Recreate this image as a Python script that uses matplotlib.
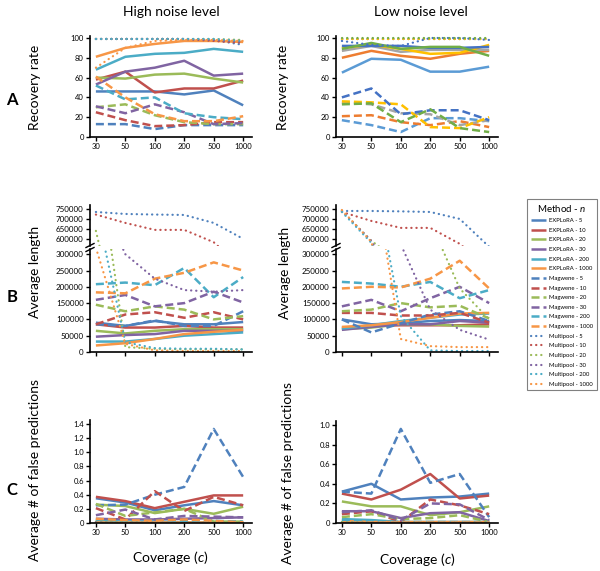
import numpy as np
import matplotlib.pyplot as plt
from matplotlib.lines import Line2D
from matplotlib.ticker import FuncFormatter

plt.rcParams['font.family'] = ['Lato', 'DejaVu Sans']
plt.rcParams['mathtext.fontset'] = 'custom'
plt.rcParams['mathtext.rm'] = 'Lato'
plt.rcParams['mathtext.it'] = 'Lato:italic'

coverage = ['30', '50', '100', '200', '500', '1000']
n_values = ['5', '10', '20', '30', '200', '1000']
methods = ['EXPLoRA', 'Magwene', 'Multipool']

# Office 2007 palette (legend, most panels) and the 2013 one used in panel A right
colors_main = ['#4F81BD', '#C0504D', '#9BBB59', '#8064A2', '#4BACC6', '#F79646']
colors_alt = ['#5B9BD5', '#ED7D31', '#A5A5A5', '#FFC000', '#4472C4', '#70AD47']

# --- A: recovery rate, high noise (rows are n = 5, 10, 20, 30, 200, 1000)
a_high_explora = [[46, 46, 46, 43, 47, 32],
                  [58, 66, 45, 49, 49, 57],
                  [60, 59, 63, 64, 59, 55],
                  [53, 66, 70, 77, 62, 64],
                  [68, 81, 84, 85, 89, 86],
                  [81, 90, 94, 97, 97, 96]]
a_high_magwene = [[13, 13, 8, 12, 12, 12],
                  [25, 17, 11, 12, 15, 15],
                  [30, 33, 22, 15, 13, 13],
                  [31, 24, 33, 25, 13, 14],
                  [52, 38, 40, 24, 20, 18],
                  [61, 40, 23, 16, 16, 21]]
a_high_multipool = [[99, 99, 99, 99, 98, 93],
                    [99, 99, 99, 99, 97, 95],
                    [99, 99, 99, 99, 99, 98],
                    [99, 99, 99, 99, 98, 96],
                    [99, 99, 99, 99, 99, 97],
                    [70, 90, 97, 98, 98, 97]]

# --- A: recovery rate, low noise
a_low_explora = [[65, 79, 78, 66, 66, 71],
                 [80, 87, 82, 79, 84, 87],
                 [87, 92, 86, 88, 88, 88],
                 [90, 93, 89, 84, 85, 93],
                 [92, 92, 92, 90, 90, 91],
                 [89, 95, 89, 91, 91, 82]]
a_low_magwene = [[17, 12, 5, 19, 19, 16],
                 [21, 22, 15, 12, 16, 10],
                 [35, 33, 24, 23, 12, 17],
                 [36, 35, 33, 10, 9, 20],
                 [40, 49, 23, 27, 27, 17],
                 [33, 34, 15, 28, 9, 5]]
a_low_multipool = [[99, 99, 99, 99, 99, 99],
                   [99, 99, 99, 99, 99, 99],
                   [99, 99, 99, 99, 99, 99],
                   [99, 99, 99, 99, 99, 99],
                   [97, 93, 92, 100, 100, 98],
                   [100, 100, 100, 100, 100, 100]]

# --- B: average length, high noise
b_high_explora = [[90000, 80000, 95000, 85000, 85000, 92000],
                  [85000, 75000, 75000, 80000, 75000, 75000],
                  [65000, 57000, 65000, 70000, 70000, 70000],
                  [47000, 52000, 55000, 65000, 65000, 65000],
                  [32000, 32000, 40000, 50000, 55000, 60000],
                  [20000, 27000, 40000, 55000, 62000, 68000]]
b_high_magwene = [[85000, 80000, 97000, 80000, 80000, 125000],
                  [85000, 115000, 122000, 105000, 122000, 100000],
                  [145000, 125000, 140000, 130000, 100000, 110000],
                  [160000, 175000, 140000, 150000, 185000, 152000],
                  [208000, 213000, 205000, 258000, 168000, 230000],
                  [183000, 180000, 225000, 243000, 275000, 250000]]
b_high_multipool = [[735000, 725000, 722000, 720000, 680000, 600000],
                    [722000, 680000, 645000, 645000, 583000, 450000],
                    [640000, 15000, 10000, 8000, 8000, 8000],
                    [500000, 300000, 225000, 190000, 185000, 190000],
                    [446000, 30000, 12000, 10000, 10000, 8000],
                    [320000, 25000, 5000, 3000, 3000, 3000]]

# --- B: average length, low noise
b_low_explora = [[100000, 85000, 88000, 95000, 98000, 95000],
                 [75000, 80000, 82000, 82000, 82000, 85000],
                 [70000, 75000, 85000, 85000, 80000, 78000],
                 [68000, 77000, 85000, 85000, 95000, 90000],
                 [72000, 82000, 95000, 105000, 115000, 118000],
                 [77000, 82000, 92000, 105000, 118000, 120000]]
b_low_magwene = [[100000, 60000, 88000, 115000, 125000, 95000],
                 [120000, 120000, 112000, 112000, 120000, 90000],
                 [125000, 130000, 150000, 137000, 142000, 103000],
                 [140000, 160000, 125000, 165000, 200000, 150000],
                 [215000, 210000, 200000, 215000, 165000, 190000],
                 [195000, 200000, 198000, 225000, 280000, 195000]]
b_low_multipool = [[740000, 740000, 738000, 735000, 700000, 560000],
                   [735000, 690000, 655000, 655000, 575000, 450000],
                   [740000, 590000, 480000, 400000, 195000, 100000],
                   [740000, 590000, 330000, 130000, 68000, 38000],
                   [735000, 580000, 110000, 5000, 3000, 3000],
                   [745000, 585000, 40000, 18000, 15000, 15000]]

# --- C: false predictions, high noise
c_high_explora = [[0.35, 0.29, 0.18, 0.25, 0.31, 0.25],
                  [0.37, 0.31, 0.21, 0.30, 0.39, 0.39],
                  [0.26, 0.24, 0.14, 0.20, 0.13, 0.23],
                  [0.06, 0.05, 0.05, 0.06, 0.07, 0.08],
                  [0.03, 0.02, 0.02, 0.01, 0.01, 0.01],
                  [0.01, 0.01, 0.01, 0.01, 0.01, 0.01]]
c_high_magwene = [[0.25, 0.26, 0.40, 0.51, 1.33, 0.65],
                  [0.21, 0.05, 0.45, 0.17, 0.37, 0.25],
                  [0.27, 0.10, 0.15, 0.20, 0.02, 0.02],
                  [0.11, 0.19, 0.05, 0.10, 0.09, 0.08],
                  [0.05, 0.03, 0.03, 0.03, 0.03, 0.02],
                  [0.06, 0.04, 0.03, 0.05, 0.03, 0.01]]
c_high_multipool = [[0.01, 0.01, 0.0, 0.0, 0.0, 0.0],
                    [0.01, 0.0, 0.0, 0.0, 0.0, 0.0],
                    [0.02, 0.01, 0.0, 0.0, 0.0, 0.0],
                    [0.01, 0.0, 0.0, 0.0, 0.0, 0.0],
                    [0.0, 0.0, 0.0, 0.0, 0.0, 0.0],
                    [0.0, 0.0, 0.0, 0.0, 0.0, 0.0]]

# --- C: false predictions, low noise
c_low_explora = [[0.32, 0.40, 0.24, 0.26, 0.27, 0.30],
                 [0.30, 0.24, 0.34, 0.50, 0.25, 0.28],
                 [0.22, 0.17, 0.17, 0.08, 0.11, 0.17],
                 [0.12, 0.12, 0.05, 0.10, 0.11, 0.02],
                 [0.04, 0.03, 0.01, 0.01, 0.01, 0.01],
                 [0.02, 0.01, 0.01, 0.01, 0.01, 0.01]]
c_low_magwene = [[0.32, 0.30, 0.96, 0.41, 0.50, 0.06],
                 [0.09, 0.12, 0.01, 0.24, 0.18, 0.09],
                 [0.06, 0.09, 0.04, 0.05, 0.08, 0.01],
                 [0.11, 0.13, 0.03, 0.20, 0.19, 0.03],
                 [0.03, 0.02, 0.01, 0.01, 0.01, 0.01],
                 [0.01, 0.01, 0.01, 0.01, 0.01, 0.01]]
c_low_multipool = [[0.01, 0.0, 0.0, 0.0, 0.0, 0.0],
                   [0.0, 0.0, 0.0, 0.0, 0.0, 0.0],
                   [0.01, 0.0, 0.0, 0.0, 0.0, 0.0],
                   [0.0, 0.0, 0.0, 0.0, 0.0, 0.0],
                   [0.0, 0.0, 0.0, 0.0, 0.0, 0.0],
                   [0.0, 0.0, 0.0, 0.0, 0.0, 0.0]]

W, H = 600, 571
fig = plt.figure(figsize=(W / 100, H / 100), dpi=100)

line_styles = {
    'EXPLoRA': dict(linestyle='-', lw=1.8, solid_capstyle='butt'),
    'Magwene': dict(linestyle=(0, (3.2, 1.6)), lw=1.8),
    'Multipool': dict(linestyle=(0, (0.1, 2.2)), lw=1.6, dash_capstyle='round'),
}
x = np.arange(len(coverage))


def box(left, top, right, bottom):
    # pixel box -> figure fraction rect
    return [left / W, 1 - bottom / H, (right - left) / W, (bottom - top) / H]


def style_ax(ax, size=5.5):
    for s in ['top', 'right']:
        ax.spines[s].set_visible(False)
    for s in ['left', 'bottom']:
        ax.spines[s].set_linewidth(1.2)
    ax.tick_params(direction='out', length=3, width=1, labelsize=size, pad=1.5)
    ax.set_xlim(-0.2, 5.3)
    ax.set_xticks(x)
    ax.set_xticklabels(coverage)


def draw(ax, groups, colors):
    for m, data in zip(methods, groups):
        for i, vals in enumerate(data):
            ax.plot(x, vals, color=colors[i], **line_styles[m])


def dec_fmt(v, pos):
    return '0' if v == 0 else f'{v:.1f}'


cols = [(90, 252), (336, 498)]

# A
for (l, r), groups, colors in zip(cols,
                                  [(a_high_explora, a_high_magwene, a_high_multipool),
                                   (a_low_explora, a_low_magwene, a_low_multipool)],
                                  [colors_main, colors_alt]):
    ax = fig.add_axes(box(l, 36, r, 137))
    draw(ax, groups, colors)
    style_ax(ax)
    ax.set_ylim(0, 102)
    ax.set_yticks([0, 20, 40, 60, 80, 100])

# B (broken axis)
for (l, r), groups in zip(cols,
                          [(b_high_explora, b_high_magwene, b_high_multipool),
                           (b_low_explora, b_low_magwene, b_low_multipool)]):
    up = fig.add_axes(box(l, 205, r, 246))
    lo = fig.add_axes(box(l, 249, r, 352))
    for ax in (up, lo):
        draw(ax, groups, colors_main)
        style_ax(ax, 5.8)
        ax.yaxis.set_major_formatter(FuncFormatter(lambda v, p: f'{int(v)}'))
    up.set_ylim(564000, 770000)
    up.set_yticks([600000, 650000, 700000, 750000])
    up.spines['bottom'].set_visible(False)
    up.tick_params(axis='x', bottom=False, labelbottom=False)
    lo.set_ylim(0, 316000)
    lo.set_yticks(np.arange(0, 300001, 50000))
    lo.set_xticklabels([])
    # break marks
    for yy in (245.5, 249.5):
        fig.add_artist(Line2D([(l - 4) / W, (l + 4) / W],
                              [1 - (yy + 2) / H, 1 - (yy - 2) / H],
                              color='black', lw=1))

# C
for (l, r), groups, ymax, ticks in zip(cols,
                                       [(c_high_explora, c_high_magwene, c_high_multipool),
                                        (c_low_explora, c_low_magwene, c_low_multipool)],
                                       [1.45, 1.04],
                                       [np.arange(0, 1.41, 0.2), np.arange(0, 1.01, 0.2)]):
    top = 523 - ymax * (99 / 1.4 if ymax > 1.2 else 98)
    ax = fig.add_axes(box(l, top, r, 523))
    draw(ax, groups, colors_main)
    style_ax(ax)
    ax.set_ylim(0, ymax)
    ax.set_yticks(ticks)
    ax.yaxis.set_major_formatter(FuncFormatter(dec_fmt))

# texts
fig.text(171 / W, 1 - 12 / H, 'High noise level', ha='center', va='center', fontsize=10)
fig.text(421 / W, 1 - 12 / H, 'Low noise level', ha='center', va='center', fontsize=10)
for lbl, yy in [('A', 100), ('B', 297), ('C', 490)]:
    fig.text(12 / W, 1 - yy / H, lbl, ha='center', va='center', fontsize=12, fontweight='bold')
for xx, yy, txt in [(35, 87, 'Recovery rate'), (283, 87, 'Recovery rate'),
                    (35, 272, 'Average length'), (285, 273, 'Average length'),
                    (35, 470, 'Average # of false predictions'),
                    (288, 473, 'Average # of false predictions')]:
    fig.text(xx / W, 1 - yy / H, txt, rotation=90, ha='center', va='center', fontsize=10)
fig.text(170 / W, 1 - 558 / H, 'Coverage ($\\mathit{c}$)', ha='center', va='center', fontsize=10)
fig.text(417 / W, 1 - 560 / H, 'Coverage ($\\mathit{c}$)', ha='center', va='center', fontsize=10)

# legend
handles, labels = [], []
for m in methods:
    for i, n in enumerate(n_values):
        handles.append(Line2D([], [], color=colors_main[i], **line_styles[m]))
        labels.append(f'{m} - {n}')
leg = fig.legend(handles, labels, loc='upper left', bbox_to_anchor=(527 / W, 1 - 199 / H),
                 borderaxespad=0, fontsize=4.2, title='Method - $\\mathit{n}$', title_fontsize=7,
                 handlelength=2.7, handletextpad=0.45, labelspacing=0.78,
                 borderpad=0.6, fancybox=False, edgecolor='#808080', framealpha=1)
leg.get_frame().set_linewidth(0.8)

fig.savefig('out.png', dpi=100)
